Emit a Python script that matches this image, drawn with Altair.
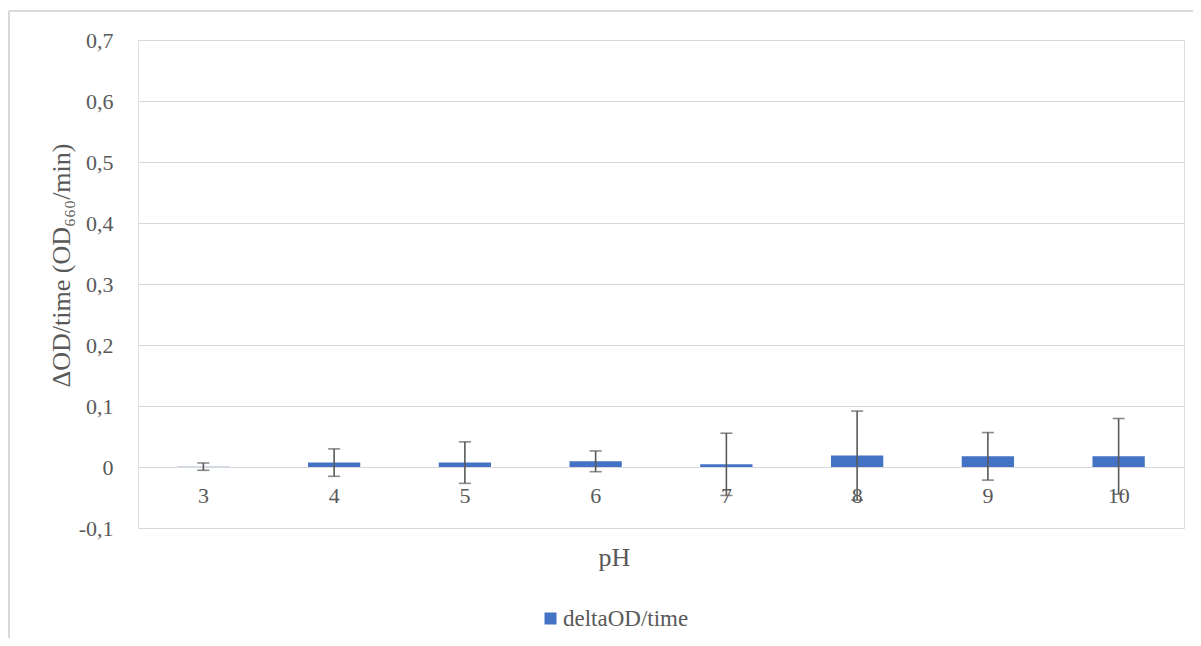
import altair as alt
import pandas as pd

categories = ["3", "4", "5", "6", "7", "8", "9", "10"]
values = [0.0006, 0.0072, 0.0072, 0.0093, 0.0044, 0.0187, 0.0175, 0.0175]
errors = [0.006, 0.0225, 0.034, 0.017, 0.051, 0.073, 0.039, 0.062]
series_name = "deltaOD/time"
y_ticks = [-0.1, 0.0, 0.1, 0.2, 0.3, 0.4, 0.5, 0.6, 0.7]

df = pd.DataFrame({
    "pH": categories,
    "value": values,
    "lo": [v - e for v, e in zip(values, errors)],
    "hi": [v + e for v, e in zip(values, errors)],
    "series": [series_name] * len(categories),
})

FONT = "'Liberation Serif', 'Times New Roman', Times, serif"
TXT = "#595959"
W, H = 1046, 488
ymin, ymax = -0.1, 0.7
zero_offset = -H * (0 - ymin) / (ymax - ymin)

xenc = alt.X(
    "pH:N",
    sort=categories,
    scale=alt.Scale(paddingInner=0.6, paddingOuter=0.3),
    axis=alt.Axis(
        title="pH", labelAngle=0, domain=False, ticks=False, grid=False,
        offset=zero_offset, labelPadding=18,
        titleX=476, titleY=90, titleAlign="center", titleBaseline="middle",
        labelFont=FONT, labelFontSize=22, labelColor=TXT,
        titleFont=FONT, titleFontSize=26, titleColor=TXT, titleFontWeight="normal",
    ),
)
yscale = alt.Scale(domain=[ymin, ymax], nice=False, zero=False)

bars = alt.Chart(df).mark_bar(stroke=None).encode(
    x=xenc,
    y=alt.Y(
        "value:Q", scale=yscale,
        axis=alt.Axis(
            title="ΔOD/time (OD₆₆₀/min)", values=y_ticks, domain=False, ticks=False,
            gridColor="#D9D9D9", gridWidth=1.2, labelPadding=25,
            labelExpr="datum.value == 0 ? '0' : replace(replace(format(datum.value, '.1f'), '.', ','), '\u2212', '-')",
            labelFont=FONT, labelFontSize=22, labelColor=TXT,
            titleFont=FONT, titleFontSize=26, titleColor=TXT, titleFontWeight="normal",
            titleX=-77, titleY=225, titleAlign="center", titleBaseline="middle", titleAngle=270,
        ),
    ),
    y2=alt.datum(0),
    color=alt.Color(
        "series:N", scale=alt.Scale(range=["#4472C4"]),
        legend=alt.Legend(
            title=None, orient="none", legendX=401, legendY=567,
            symbolType="square", symbolSize=144, symbolStrokeWidth=0,
            labelFont=FONT, labelFontSize=23, labelColor=TXT, labelOffset=1,
        ),
    ),
)

err = alt.Chart(df).mark_rule(color="#595959", strokeWidth=1.6).encode(
    x=alt.X("pH:N", sort=categories),
    y=alt.Y("lo:Q", scale=yscale),
    y2="hi:Q",
)
cap_lo = alt.Chart(df).mark_tick(color="#595959", thickness=1.6, size=12).encode(
    x=alt.X("pH:N", sort=categories), y=alt.Y("lo:Q", scale=yscale)
)
cap_hi = alt.Chart(df).mark_tick(color="#595959", thickness=1.6, size=12).encode(
    x=alt.X("pH:N", sort=categories), y=alt.Y("hi:Q", scale=yscale)
)

frame_left = alt.Chart(df).mark_rule(color="#D9D9D9", strokeWidth=1.5).encode(
    x=alt.value(-129), y=alt.value(-29), y2=alt.value(H + 130)
)
frame_top = alt.Chart(df).mark_rule(color="#D9D9D9", strokeWidth=1.2).encode(
    x=alt.value(-129), x2=alt.value(W + 20), y=alt.value(-29)
)

chart = alt.layer(frame_left, frame_top, bars, err, cap_lo, cap_hi).properties(
    width=W, height=H,
    autosize=alt.AutoSizeParams(type="none"),
    padding={"left": 130, "top": 32, "right": 9, "bottom": 110},
).configure_view(stroke=None).configure(background="white")

chart.save("out.html", embed_options={"renderer": "svg", "actions": False})
